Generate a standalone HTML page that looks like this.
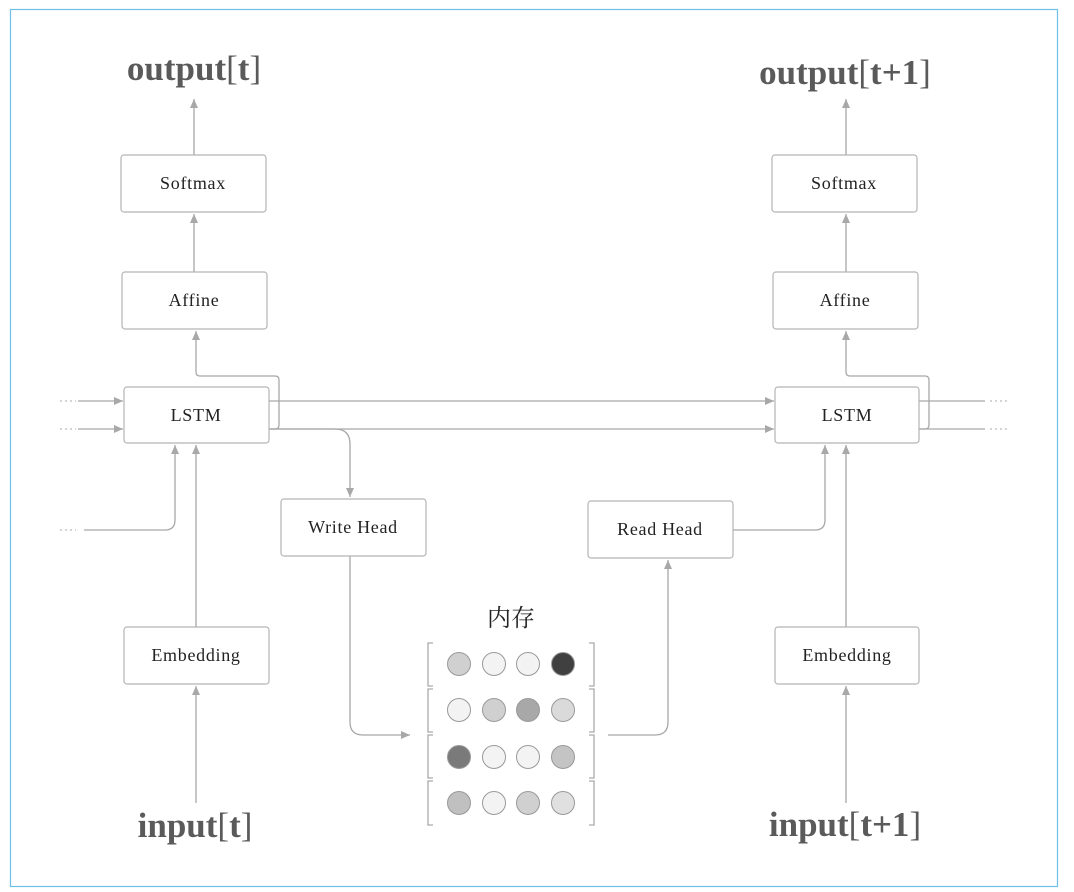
<!DOCTYPE html>
<html><head><meta charset="utf-8"><style>
html,body{margin:0;padding:0;background:#fff;width:1074px;height:892px;overflow:hidden}
svg{display:block}
.b{fill:#fff;stroke:#b5b5b5;stroke-width:1.2}
.t{font-family:"Liberation Serif",serif;font-size:18px;letter-spacing:0.7px;fill:#222;text-anchor:middle}
.h{font-family:"Liberation Serif",serif;font-size:35px;font-weight:bold;fill:#5a5a5a;text-anchor:middle}
.l{fill:none;stroke:#a8a8a8;stroke-width:1.3}
.d{fill:none;stroke:#bbb;stroke-width:1.3;stroke-dasharray:2 3}
.br{fill:none;stroke:#aaa;stroke-width:1.3}
.c{stroke:#999;stroke-width:1}
</style></head><body>
<svg width="1074" height="892" viewBox="0 0 1074 892">
<defs><marker id="a" markerWidth="10" markerHeight="10" refX="9" refY="5" orient="auto" markerUnits="userSpaceOnUse"><path d="M0,1 L9,5 L0,9 z" fill="#a8a8a8"/></marker></defs>
<rect x="10.5" y="9.5" width="1047" height="877" fill="none" stroke="#6cc0e5" stroke-width="1.2"/>

<text class="h" x="194" y="80">output<tspan font-weight="normal">[</tspan>t<tspan font-weight="normal">]</tspan></text>
<text class="h" x="845" y="84">output<tspan font-weight="normal">[</tspan>t+1<tspan font-weight="normal">]</tspan></text>
<text class="h" x="195" y="837">input<tspan font-weight="normal">[</tspan>t<tspan font-weight="normal">]</tspan></text>
<text class="h" x="845" y="836">input<tspan font-weight="normal">[</tspan>t+1<tspan font-weight="normal">]</tspan></text>

<path class="l" marker-end="url(#a)" d="M194,155 V99"/>
<path class="l" marker-end="url(#a)" d="M194,272 V214"/>
<path class="l" marker-end="url(#a)" d="M269,429 H275 Q279,429 279,425 V380 Q279,376 275,376 H200 Q196,376 196,372 V331"/>
<path class="l" marker-end="url(#a)" d="M269,401 H774"/>
<path class="l" marker-end="url(#a)" d="M269,429 H774"/>
<path class="l" marker-end="url(#a)" d="M269,429 H335 Q350,429 350,444 V497"/>
<path class="d" d="M60,401 H76"/><path class="l" marker-end="url(#a)" d="M78,401 H123"/>
<path class="d" d="M60,429 H76"/><path class="l" marker-end="url(#a)" d="M78,429 H123"/>
<path class="d" d="M60,530 H76"/>
<path class="l" marker-end="url(#a)" d="M84,530 H165 Q175,530 175,520 V445"/>
<path class="l" marker-end="url(#a)" d="M196,627 V445"/>
<path class="l" marker-end="url(#a)" d="M196,803 V686"/>
<path class="l" marker-end="url(#a)" d="M350,556 V722 Q350,735 363,735 H410"/>
<path class="l" marker-end="url(#a)" d="M608,735 H655 Q668,735 668,722 V560"/>
<path class="l" marker-end="url(#a)" d="M733,530 H815 Q825,530 825,520 V445"/>
<path class="l" marker-end="url(#a)" d="M846,627 V445"/>
<path class="l" marker-end="url(#a)" d="M846,803 V686"/>
<path class="l" marker-end="url(#a)" d="M919,429 H925 Q929,429 929,425 V380 Q929,376 925,376 H850 Q846,376 846,372 V331"/>
<path class="l" d="M919,401 H985"/><path class="d" d="M990,401 H1008"/>
<path class="l" d="M919,429 H985"/><path class="d" d="M990,429 H1008"/>
<path class="l" marker-end="url(#a)" d="M846,272 V214"/>
<path class="l" marker-end="url(#a)" d="M846,155 V99"/>

<rect class="b" x="121" y="155" width="145" height="57" rx="3"/><text class="t" x="193" y="189">Softmax</text>
<rect class="b" x="122" y="272" width="145" height="57" rx="3"/><text class="t" x="194" y="306">Affine</text>
<rect class="b" x="124" y="387" width="145" height="56" rx="3"/><text class="t" x="196" y="421">LSTM</text>
<rect class="b" x="124" y="627" width="145" height="57" rx="3"/><text class="t" x="196" y="661">Embedding</text>
<rect class="b" x="281" y="499" width="145" height="57" rx="3"/><text class="t" x="353" y="533">Write Head</text>
<rect class="b" x="588" y="501" width="145" height="57" rx="3"/><text class="t" x="660" y="535">Read Head</text>
<rect class="b" x="772" y="155" width="145" height="57" rx="3"/><text class="t" x="844" y="189">Softmax</text>
<rect class="b" x="773" y="272" width="145" height="57" rx="3"/><text class="t" x="845" y="306">Affine</text>
<rect class="b" x="775" y="387" width="144" height="56" rx="3"/><text class="t" x="847" y="421">LSTM</text>
<rect class="b" x="775" y="627" width="144" height="57" rx="3"/><text class="t" x="847" y="661">Embedding</text>

<text x="511" y="626" text-anchor="middle" style="font-family:'Noto Serif CJK SC','Noto Sans CJK SC',serif;font-size:24px;fill:#222">内存</text>
<g>
<path class="br" d="M433,643 H428 V686 H433 M589,643 H594 V686 H589"/>
<path class="br" d="M433,689 H428 V732 H433 M589,689 H594 V732 H589"/>
<path class="br" d="M433,735 H428 V778 H433 M589,735 H594 V778 H589"/>
<path class="br" d="M433,781 H428 V825 H433 M589,781 H594 V825 H589"/>
<circle class="c" cx="459" cy="664" r="11.5" fill="#d0d0d0"/><circle class="c" cx="494" cy="664" r="11.5" fill="#f3f3f3"/><circle class="c" cx="528" cy="664" r="11.5" fill="#f3f3f3"/><circle class="c" cx="563" cy="664" r="11.5" fill="#404040"/>
<circle class="c" cx="459" cy="710" r="11.5" fill="#f3f3f3"/><circle class="c" cx="494" cy="710" r="11.5" fill="#d0d0d0"/><circle class="c" cx="528" cy="710" r="11.5" fill="#a8a8a8"/><circle class="c" cx="563" cy="710" r="11.5" fill="#dadada"/>
<circle class="c" cx="459" cy="757" r="11.5" fill="#7a7a7a"/><circle class="c" cx="494" cy="757" r="11.5" fill="#f3f3f3"/><circle class="c" cx="528" cy="757" r="11.5" fill="#f3f3f3"/><circle class="c" cx="563" cy="757" r="11.5" fill="#c4c4c4"/>
<circle class="c" cx="459" cy="803" r="11.5" fill="#c0c0c0"/><circle class="c" cx="494" cy="803" r="11.5" fill="#f3f3f3"/><circle class="c" cx="528" cy="803" r="11.5" fill="#d0d0d0"/><circle class="c" cx="563" cy="803" r="11.5" fill="#e0e0e0"/>
</g>
</svg>
</body></html>
